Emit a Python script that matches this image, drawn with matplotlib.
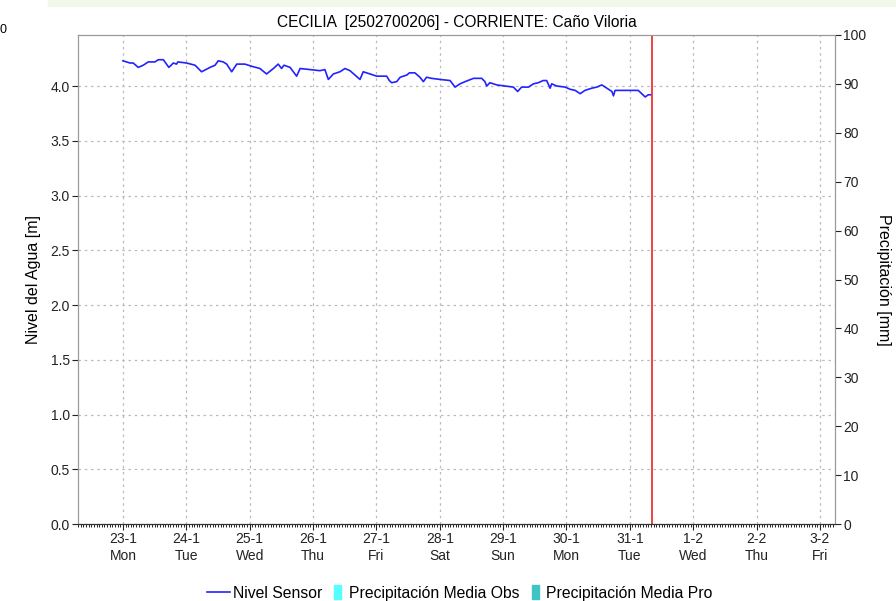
import matplotlib
matplotlib.use('Agg')
import matplotlib.pyplot as plt
import matplotlib.dates as mdates
from matplotlib.lines import Line2D
from matplotlib.ticker import FuncFormatter, MultipleLocator
from datetime import datetime, timedelta

plt.rcParams['font.family'] = ['Liberation Sans', 'DejaVu Sans']

# Station data (hours since 23-1 00:00, level in m)
start = datetime(2023, 1, 23)
hours = [0, 2.7, 3.9, 5.8, 7.7, 9.6, 12.1, 13.4, 15.3, 17.4, 19.1, 20.3, 20.8,
         24.1, 27.3, 29.8, 33, 34.9, 36.1, 38, 39.3, 41.2, 43.1, 46.2,
         48.8, 51.9, 54.4, 57, 58.8, 60.1, 61, 63.3, 65.8, 67.1, 70.9,
         74.6, 76.5, 77.8, 79.7, 82.2, 84.1, 86, 87.9, 89.8, 91, 93.6, 96.1,
         99.9, 100.9, 101.8, 103.7, 105, 107.5, 108.5, 110.6, 112.5, 113.8,
         115, 116.9, 120.1, 123.9, 125.8, 127.7, 129.6, 132.8, 135.9, 137.1,
         137.8, 139, 141.6, 144.7, 147.9, 149.5, 151, 153.6, 155.5, 157.3,
         159.2, 160.5, 161.8, 162.4, 164.3, 167.5, 169.4, 171.3, 173.2, 175,
         177.6, 179.5, 181.4, 183.3, 185.2, 185.8, 186.4, 188.3, 192.1, 195.2,
         197.8, 199, 199.9]
level = [4.23, 4.21, 4.21, 4.17, 4.19, 4.22, 4.22, 4.24, 4.24, 4.17, 4.21, 4.20, 4.22,
         4.21, 4.19, 4.13, 4.17, 4.19, 4.23, 4.22, 4.20, 4.13, 4.20, 4.20,
         4.18, 4.16, 4.11, 4.16, 4.20, 4.16, 4.19, 4.17, 4.09, 4.16, 4.15,
         4.14, 4.15, 4.06, 4.11, 4.13, 4.16, 4.14, 4.10, 4.06, 4.13, 4.11, 4.09,
         4.09, 4.05, 4.03, 4.04, 4.08, 4.10, 4.12, 4.12, 4.08, 4.04,
         4.08, 4.07, 4.06, 4.05, 3.99, 4.02, 4.04, 4.07, 4.07, 4.04,
         4.00, 4.03, 4.01, 4.00, 3.99, 3.95, 3.99, 3.99, 4.02, 4.03,
         4.05, 4.05, 3.98, 4.02, 4.00, 3.99, 3.97, 3.96, 3.93, 3.96,
         3.98, 3.99, 4.01, 3.98, 3.95, 3.91, 3.96, 3.96, 3.96, 3.96,
         3.90, 3.92, 3.92]
now_hours = 200.4
range_hours = (-17, 269.7)

times = [start + timedelta(hours=h) for h in hours]
now = start + timedelta(hours=now_hours)

fig = plt.figure(figsize=(8.96, 6.01), dpi=100)
fig.patches.append(plt.Rectangle((0.054, 0.99), 0.95, 0.02, transform=fig.transFigure,
                                 color='#f1f8ea', zorder=0))
fig.text(0.0, 0.95, '0', fontsize=9, va='center')

ax = fig.add_axes([0.0871, 0.128, 0.8448, 0.8138])
ax2 = ax.twinx()

ax.plot(times, level, color='#2222ff', lw=1.2, zorder=3)
ax.axvline(now, color='#ee2222', lw=1.2, zorder=4)

ax.set_xlim(start + timedelta(hours=range_hours[0]), start + timedelta(hours=range_hours[1]))
ax.set_ylim(0, 4.466)
ax2.set_ylim(0, 100)

ax.yaxis.set_major_locator(MultipleLocator(0.5))
ax.yaxis.set_major_formatter(FuncFormatter(lambda v, p: f'{v:.1f}'))
ax2.yaxis.set_major_locator(MultipleLocator(10))

ax.xaxis.set_major_locator(mdates.DayLocator())
ax.xaxis.set_minor_locator(mdates.HourLocator())


def day_label(v, pos):
    d = mdates.num2date(v)
    return f'{d.day}-{d.month}\n{d.strftime("%a")}'


ax.xaxis.set_major_formatter(FuncFormatter(day_label))

ax.grid(True, color='#bbbbbb', linestyle=(0, (2, 3)), lw=0.9)
for a in (ax, ax2):
    for s in ('left', 'right', 'top'):
        a.spines[s].set_color('#999999')
    a.spines['bottom'].set_color('#333333')
    a.tick_params(labelsize=10, colors='#222222')
ax.tick_params(axis='x', which='major', length=4, pad=2)
ax.tick_params(axis='x', which='minor', length=2)
ax.tick_params(axis='y', length=4, pad=2)
ax2.tick_params(axis='y', length=4, pad=2)
for lab in ax.get_xticklabels():
    lab.set_linespacing(1.25)

ax.set_ylabel('Nivel del Agua [m]', fontsize=11.5, labelpad=7)
ax2.set_ylabel('Precipitación [mm]', fontsize=11.5, rotation=270, labelpad=18)
ax.set_title('CECILIA  [2502700206] - CORRIENTE: Caño Viloria', fontsize=11.2, pad=6)

box = [(0.0, -1), (1.0, -1), (1.0, 1), (0.0, 1), (0.0, -1)]
handles = [
    Line2D([], [], color='#2222ff', lw=1.2),
    Line2D([], [], marker=box, linestyle='none', markersize=10, color='#55ffff'),
    Line2D([], [], marker=box, linestyle='none', markersize=10, color='#40c4c4'),
]
labels = ['Nivel Sensor', 'Precipitación Media Obs', 'Precipitación Media Pro']
fig.legend(handles, labels, loc='center', bbox_to_anchor=(0.513, 0.013), ncol=3,
           frameon=False, fontsize=11.3, handlelength=1.5, handletextpad=0.2,
           columnspacing=0.0)

fig.savefig('out.png', dpi=100)
